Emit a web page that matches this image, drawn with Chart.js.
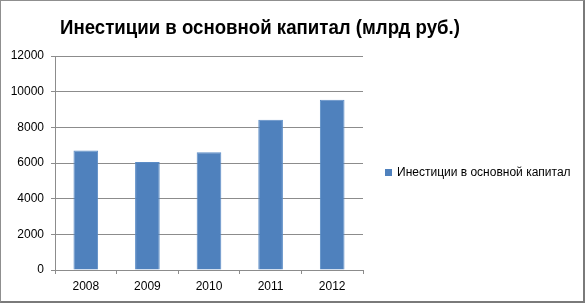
<!DOCTYPE html>
<html><head><meta charset="utf-8">
<script src="https://cdn.jsdelivr.net/npm/chart.js@4/dist/chart.umd.min.js"></script>
<style>
html,body{margin:0;padding:0;background:#fff;}
#frame{position:absolute;left:0;top:0;width:585px;height:303px;box-sizing:border-box;border:1px solid #8f8f8f;border-right:2px solid #7a7a7a;border-bottom:2px solid #7a7a7a;background:#fff;}
canvas{position:absolute;left:0;top:0;}
</style></head><body>
<div id="frame"><canvas id="c" width="582" height="300"></canvas></div>
<script>
const titleText = 'Инестиции в основной капитал (млрд руб.)';
const seriesName = 'Инестиции в основной капитал';
const years = ['2008', '2009', '2010', '2011', '2012'];
const investments = [6700, 6050, 6600, 8430, 9550];
const yTicks = [0, 2000, 4000, 6000, 8000, 10000, 12000];

const barColor = '#4f81bd';
const gridColor = '#8c8c8c';
const FONT = '"Liberation Sans", Arial, sans-serif';

const titleLegendPlugin = {
  id: 'titleLegend',
  afterDraw(chart) {
    const ctx = chart.ctx;
    ctx.save();
    // title: full height, condensed horizontally to span ~400px like the reference
    ctx.fillStyle = '#000';
    ctx.font = 'bold 21px ' + FONT;
    const w = ctx.measureText(titleText).width;
    const sx = Math.min(1, 400 / w);
    ctx.textAlign = 'center';
    ctx.textBaseline = 'alphabetic';
    ctx.translate(259, 33);
    ctx.scale(sx, 1);
    ctx.fillText(titleText, 0, 0);
    ctx.restore();
    ctx.save();
    // legend
    const ds = chart.data.datasets[0];
    ctx.fillStyle = ds.backgroundColor;
    ctx.fillRect(384, 168, 7, 7);
    ctx.fillStyle = '#000';
    ctx.font = '12px ' + FONT;
    ctx.textAlign = 'left';
    ctx.textBaseline = 'middle';
    ctx.fillText(ds.label, 396, 172);
    ctx.restore();
  }
};

new Chart(document.getElementById('c'), {
  type: 'bar',
  data: {
    labels: years,
    datasets: [{
      label: seriesName,
      data: investments,
      backgroundColor: barColor,
      borderColor: '#5b8cc6',
      borderWidth: 1,
      barPercentage: 0.4,
      categoryPercentage: 1.0
    }]
  },
  options: {
    responsive: false,
    animation: false,
    events: [],
    layout: { padding: { top: 55, right: 220, left: 0, bottom: 0 } },
    plugins: {
      legend: { display: false },
      title: { display: false },
      tooltip: { enabled: false }
    },
    scales: {
      x: {
        offset: true,
        grid: {
          offset: true,
          drawOnChartArea: false,
          drawTicks: true,
          tickLength: 4,
          color: gridColor
        },
        border: { display: true, color: gridColor, width: 1 },
        ticks: { color: '#000', font: { family: FONT, size: 12 }, padding: 5, maxRotation: 0 },
        afterFit(s) { s.height = 31; }
      },
      y: {
        min: 0,
        max: 12000,
        afterBuildTicks(s) { s.ticks = yTicks.map(v => ({ value: v })); },
        grid: { color: gridColor, tickLength: 4, drawTicks: true },
        border: { display: true, color: gridColor, width: 1 },
        ticks: { color: '#000', font: { family: FONT, size: 12 }, padding: 7, callback: v => String(v) },
        afterFit(s) { s.width = 54; }
      }
    }
  },
  plugins: [titleLegendPlugin]
});
</script>
</body></html>
